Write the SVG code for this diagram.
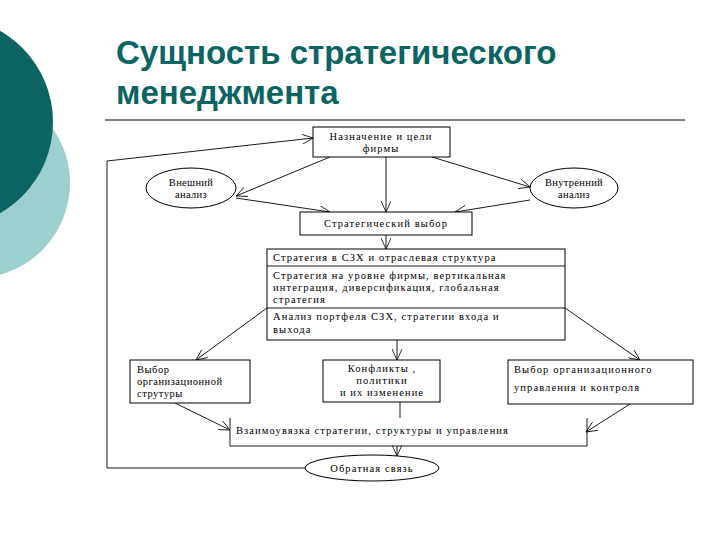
<svg xmlns="http://www.w3.org/2000/svg" width="720" height="540" viewBox="0 0 720 540">
<defs>
<marker id="a" markerWidth="12" markerHeight="10" refX="11" refY="5" orient="auto" markerUnits="userSpaceOnUse">
<path d="M0,0 L11,5 L0,10" fill="none" stroke="#000" stroke-width="0.8"/>
</marker>
<style>
.b{fill:#fff;stroke:#000;stroke-width:1}
.t{font-family:"Liberation Serif","DejaVu Serif",serif;font-size:10.5px;letter-spacing:1.1px;fill:#000}
.c{text-anchor:middle}
.l{fill:none;stroke:#000;stroke-width:0.9}
.ar{marker-end:url(#a)}
</style>
</defs>
<rect width="720" height="540" fill="#fff"/>
<circle cx="-25" cy="183" r="95" fill="#9ccfcd"/>
<circle cx="-52" cy="122" r="105" fill="#0b6461"/>
<text x="116" y="64" font-family="Liberation Sans,sans-serif" font-weight="bold" font-size="33" fill="#0b6461">Сущность стратегического</text>
<text x="116" y="104" font-family="Liberation Sans,sans-serif" font-weight="bold" font-size="33" fill="#0b6461">менеджмента</text>
<line x1="105" y1="120" x2="685" y2="120" stroke="#000" stroke-width="1"/>
<g id="connectors">
<polyline class="l ar" points="305,468 107,468 107,161 313,138"/>
<line class="l ar" x1="330" y1="157" x2="236" y2="196"/>
<line class="l ar" x1="432" y1="157" x2="530" y2="187"/>
<line class="l ar" x1="386" y1="157" x2="386" y2="212"/>
<line class="l ar" x1="236" y1="198" x2="330" y2="212"/>
<line class="l ar" x1="530" y1="200" x2="455" y2="212"/>
<line class="l ar" x1="386" y1="235" x2="386" y2="249"/>
<line class="l ar" x1="267" y1="308" x2="196" y2="360"/>
<line class="l ar" x1="565" y1="308" x2="640" y2="360"/>
<line class="l ar" x1="397" y1="340" x2="397" y2="360"/>
<line class="l ar" x1="175" y1="403" x2="230" y2="430"/>
<line class="l ar" x1="630" y1="404" x2="586" y2="432"/>
<line class="l" x1="400" y1="402" x2="400" y2="418"/>
<line class="l ar" x1="397" y1="446" x2="397" y2="456"/>
</g>
<g id="n1"><rect class="b" x="313" y="127" width="137" height="30"/>
<text class="t c" x="381" y="140">Назначение и цели</text><text class="t c" x="381" y="152">фирмы</text></g>
<g id="n2"><ellipse class="b" cx="191" cy="188" rx="45" ry="20"/>
<text class="t c" x="191" y="186" style="letter-spacing:0.3px">Внешний</text><text class="t c" x="191" y="198" style="letter-spacing:0.3px">анализ</text></g>
<g id="n3"><ellipse class="b" cx="574" cy="188" rx="44" ry="20"/>
<text class="t c" x="574" y="186" style="letter-spacing:0.3px">Внутренний</text><text class="t c" x="574" y="198" style="letter-spacing:0.3px">анализ</text></g>
<g id="n4"><rect class="b" x="300" y="212" width="172" height="23"/>
<text class="t c" x="386" y="227">Стратегический выбор</text></g>
<g id="n5"><rect class="b" x="267" y="249" width="298" height="91"/>
<line class="l" x1="267" y1="266" x2="565" y2="266"/><line class="l" x1="267" y1="308" x2="565" y2="308"/>
<text class="t" x="273" y="261">Стратегия в СЗХ и отраслевая структура</text>
<text class="t" x="273" y="279">Стратегия на уровне фирмы, вертикальная</text>
<text class="t" x="273" y="291">интеграция, диверсификация, глобальная</text>
<text class="t" x="273" y="303">стратегия</text>
<text class="t" x="273" y="320">Анализ портфеля СЗХ, стратегии входа и</text>
<text class="t" x="273" y="333">выхода</text></g>
<g id="n6"><rect class="b" x="130" y="360" width="120" height="43"/>
<text class="t" x="137" y="373" style="letter-spacing:0.5px">Выбор</text><text class="t" x="137" y="385" style="letter-spacing:0.5px">организационной</text><text class="t" x="137" y="397" style="letter-spacing:0.5px">струтуры</text></g>
<g id="n7"><rect class="b" x="323" y="360" width="117" height="42"/>
<text class="t c" x="382" y="372">Конфликты ,</text><text class="t c" x="382" y="384">политики</text><text class="t c" x="382" y="396">и их изменение</text></g>
<g id="n8"><rect class="b" x="508" y="360" width="185" height="44"/>
<text class="t" x="514" y="373">Выбор организационного</text><text class="t" x="514" y="391">управления и контроля</text></g>
<g id="n9"><polyline class="l" points="230,418 230,446 587,446 587,418"/>
<text class="t" x="236" y="434">Взаимоувязка стратегии, структуры и управления</text></g>
<g id="n10"><ellipse class="b" cx="372" cy="468" rx="67" ry="13"/>
<text class="t c" x="372" y="472">Обратная связь</text></g>
</svg>
